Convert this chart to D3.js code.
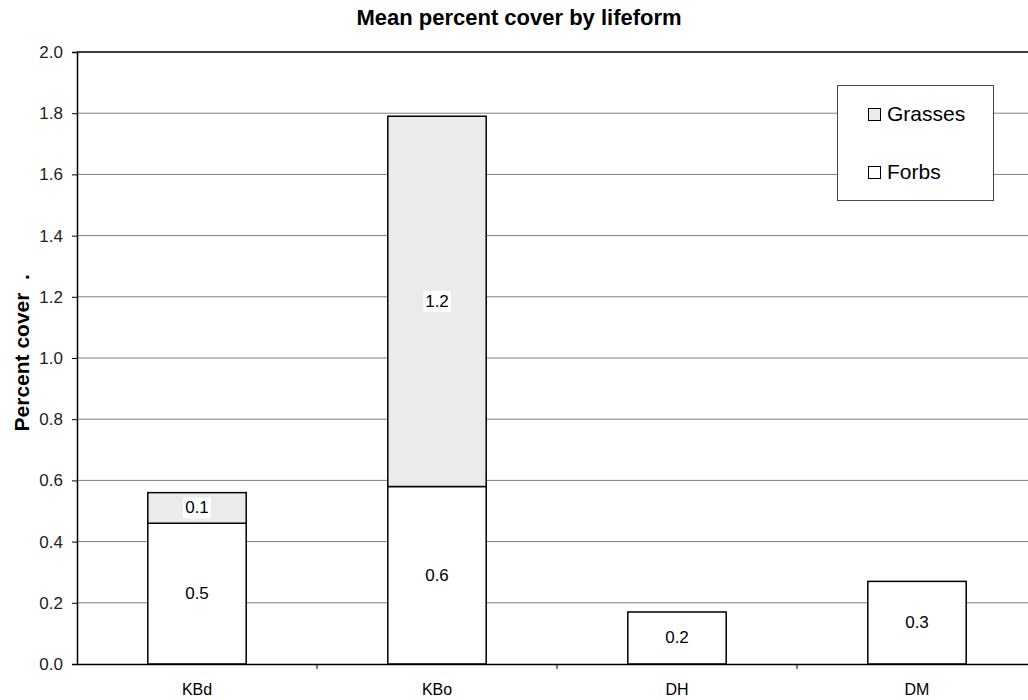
<!DOCTYPE html>
<html>
<head>
<meta charset="utf-8">
<script src="https://cdn.jsdelivr.net/npm/d3@7"></script>
<style>
  html, body { margin: 0; padding: 0; background: #fff; }
  svg { display: block; font-family: "Liberation Sans", Arial, sans-serif; }
</style>
</head>
<body>
<svg id="chart" width="1028" height="700"></svg>
<script>
// Mean percent cover per site, stacked by lifeform
const categories = ["KBd", "KBo", "DH", "DM"];
const forbs = [0.46, 0.58, 0.17, 0.27];
const grasses = [0.10, 1.21, 0, 0];
const seriesNames = ["Grasses", "Forbs"];
const yTicks = [0, 0.2, 0.4, 0.6, 0.8, 1.0, 1.2, 1.4, 1.6, 1.8, 2.0];

const svg = d3.select("#chart");
const plotLeft = 77, plotRight = 1037, plotTop = 52, plotBottom = 664;

const x = d3.scaleBand().domain(categories).range([plotLeft, plotRight]).padding(0);
const y = d3.scaleLinear().domain([0, 2]).range([plotBottom, plotTop]);
const barW = x.bandwidth() * 0.41;
const fmt = d3.format(".1f");

// horizontal gridlines
svg.append("g").selectAll("line")
  .data(yTicks.filter(t => t > 0 && t < 2))
  .join("line")
  .attr("x1", plotLeft).attr("x2", plotRight)
  .attr("y1", d => y(d)).attr("y2", d => y(d))
  .attr("stroke", "#808080").attr("stroke-width", 1);

// top frame line
svg.append("line")
  .attr("x1", plotLeft).attr("x2", plotRight)
  .attr("y1", y(2)).attr("y2", y(2))
  .attr("stroke", "#000").attr("stroke-width", 1.5);

// stacked table
const rows = categories.map((c, i) => ({ cat: c, forbs: forbs[i], grasses: grasses[i] }));
const stack = d3.stack().keys(["forbs", "grasses"])(rows);
const fills = { forbs: "#ffffff", grasses: "#ebebeb" };

const layers = svg.append("g").selectAll("g")
  .data(stack).join("g")
  .attr("fill", d => fills[d.key]);

layers.selectAll("rect")
  .data(d => d.filter(s => s[1] - s[0] > 0))
  .join("rect")
  .attr("x", d => x(d.data.cat) + x.bandwidth() / 2 - barW / 2)
  .attr("width", barW)
  .attr("y", d => y(d[1]))
  .attr("height", d => y(d[0]) - y(d[1]))
  .attr("stroke", "#000").attr("stroke-width", 1.5);

// value labels
stack.forEach(layer => {
  layer.filter(s => s[1] - s[0] > 0).forEach(s => {
    const cx = x(s.data.cat) + x.bandwidth() / 2;
    const cy = (y(s[0]) + y(s[1])) / 2;
    const txt = fmt(s[1] - s[0]);
    const g = svg.append("g");
    const t = g.append("text")
      .attr("x", cx).attr("y", cy)
      .attr("text-anchor", "middle").attr("dominant-baseline", "central")
      .attr("font-size", 17).attr("fill", "#000")
      .text(txt);
    const bb = t.node().getBBox();
    g.insert("rect", "text")
      .attr("x", bb.x - 2).attr("y", bb.y - 1)
      .attr("width", bb.width + 4).attr("height", bb.height + 2)
      .attr("fill", "#fff");
  });
});

// y axis
const yAxis = svg.append("g")
  .attr("transform", `translate(${plotLeft},0)`)
  .call(d3.axisLeft(y).tickValues(yTicks).tickFormat(fmt).tickSize(5).tickPadding(9));
yAxis.select(".domain").attr("stroke", "#000").attr("stroke-width", 1.5);
yAxis.selectAll(".tick line").attr("stroke", "#000");
yAxis.selectAll(".tick text")
  .attr("font-size", 17).attr("fill", "#222")
  .attr("font-family", "Liberation Sans, Arial, sans-serif");

// x axis
const xAxis = svg.append("g")
  .attr("transform", `translate(0,${plotBottom})`)
  .call(d3.axisBottom(x).tickSize(0).tickPadding(20));
xAxis.select(".domain").attr("stroke", "#000").attr("stroke-width", 1.5);
xAxis.selectAll(".tick text")
  .attr("font-size", 16).attr("fill", "#000")
  .attr("font-family", "Liberation Sans, Arial, sans-serif");
// category separators
svg.append("g").selectAll("line")
  .data(categories.slice(1))
  .join("line")
  .attr("x1", d => x(d)).attr("x2", d => x(d))
  .attr("y1", plotBottom).attr("y2", plotBottom + 5)
  .attr("stroke", "#000");

// title
svg.append("text")
  .attr("x", 519).attr("y", 25)
  .attr("text-anchor", "middle")
  .attr("font-size", 22).attr("font-weight", "bold")
  .text("Mean percent cover by lifeform");

// y axis title
svg.append("text")
  .attr("transform", "translate(29,362) rotate(-90)")
  .attr("text-anchor", "middle")
  .attr("font-size", 21).attr("font-weight", "bold")
  .text("Percent cover");
svg.append("text")
  .attr("transform", "translate(29,277) rotate(-90)")
  .attr("text-anchor", "middle")
  .attr("font-size", 21).attr("font-weight", "bold")
  .text(".");

// legend
const legend = svg.append("g");
legend.append("rect")
  .attr("x", 837.5).attr("y", 85.5).attr("width", 156).attr("height", 115)
  .attr("fill", "#fff").attr("stroke", "#444").attr("stroke-width", 1);
const legendFill = { Grasses: fills.grasses, Forbs: fills.forbs };
seriesNames.forEach((name, i) => {
  const yy = 108 + i * 58;
  legend.append("rect")
    .attr("x", 868.5).attr("y", yy + 0.5).attr("width", 12).attr("height", 12)
    .attr("fill", legendFill[name]).attr("stroke", "#000").attr("stroke-width", 1);
  legend.append("text")
    .attr("x", 887).attr("y", yy + 13)
    .attr("font-size", 21).attr("fill", "#000")
    .text(name);
});
</script>
</body>
</html>
